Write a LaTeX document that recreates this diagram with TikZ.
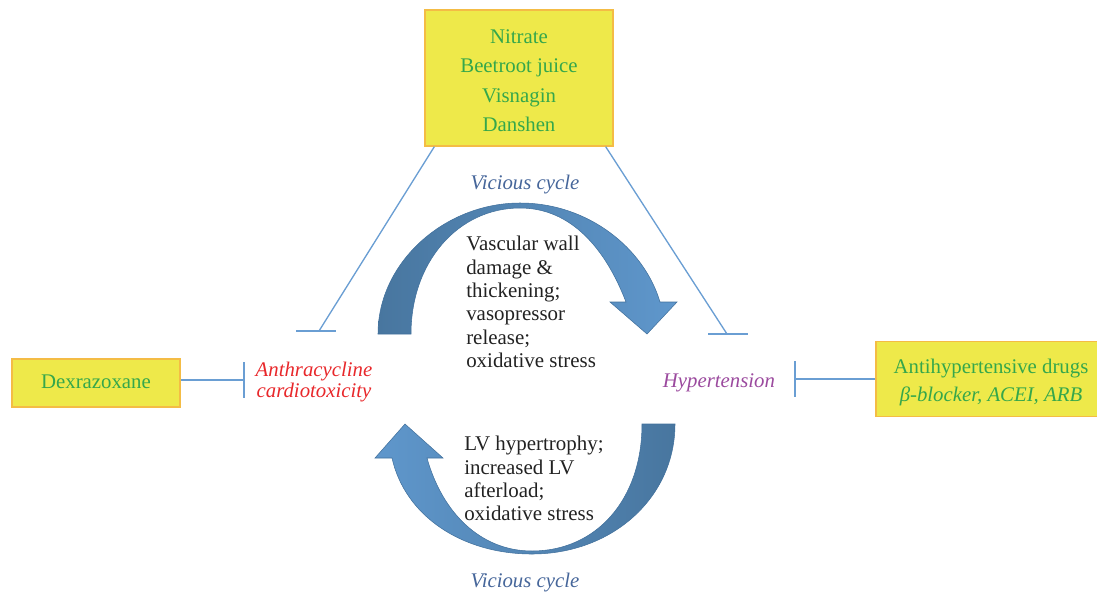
\documentclass[tikz,border=0pt]{standalone}
\usepackage{fontspec}
\setmainfont{Liberation Serif}
\usetikzlibrary{calc}
\definecolor{boxfill}{HTML}{EEE94A}
\definecolor{boxedge}{HTML}{F4BC45}
\definecolor{drugtext}{HTML}{35A74B}
\definecolor{inhib}{HTML}{6A9ED3}
\definecolor{arrdark}{HTML}{48769F}
\definecolor{arrlight}{HTML}{5F97CC}
\definecolor{arredge}{HTML}{41709C}
\definecolor{anthra}{HTML}{E8282B}
\definecolor{hyper}{HTML}{9B4A9E}
\definecolor{vicious}{HTML}{46669A}
\definecolor{bodytext}{HTML}{222222}
\begin{document}
\begin{tikzpicture}[x=0.75pt,y=-0.75pt,
  drugbox/.style={draw=boxedge,fill=boxfill,line width=1pt,inner sep=0pt},
  drugtxt/.style={text=drugtext,align=center,font=\fontsize{15.6}{22.1}\selectfont,inner sep=0pt},
  inhline/.style={draw=inhib,line width=1pt},
  inhbar/.style={draw=inhib,line width=1.6pt},
  bodytxt/.style={text=bodytext,align=left,anchor=north west,inner sep=0pt,
    font=\fontsize{15.7}{17.5}\selectfont},
  vc/.style={text=vicious,font=\fontsize{15.6}{18}\selectfont\itshape,inner sep=0pt},
  arrowband/.style={draw=arredge,line width=0.4pt}
]
\useasboundingbox (0,0) rectangle (1097,594);

% boxes
\node[drugbox,minimum width=141pt,minimum height=102pt] (top) at (519,78) {};
\node[drugtxt] (toptxt) at (519,80.5) {Nitrate\\Beetroot juice\\Visnagin\\Danshen};
\node[drugbox,minimum width=126pt,minimum height=36pt] (dex) at (96,383) {};
\node[drugtxt] (dextxt) at (96,382) {Dexrazoxane};
\node[drugbox,minimum width=168pt,minimum height=56pt] (anti) at (988,379) {};
\node[drugtxt,font=\fontsize{15.6}{20.3}\selectfont] (antitxt) at (991,382.5)
  {Antihypertensive drugs\\\itshape β-blocker, ACEI, ARB};

% labels
\node[text=anthra,align=center,font=\fontsize{15.6}{15.5}\selectfont\itshape,inner sep=0pt] (anth) at (314,382)
  {Anthracycline\\cardiotoxicity};
\node[text=hyper,font=\fontsize{15.6}{18}\selectfont\itshape,inner sep=0pt] (hyp) at (719,383) {Hypertension};
\node[vc] (vc1) at (525,185) {Vicious cycle};
\node[vc] (vc2) at (525,583) {Vicious cycle};

% curved arrows
\shade[arrowband,left color=arrdark,right color=arrlight]
  (378,334) .. controls (378,262) and (445,203) .. (520,203)
  .. controls (588,203) and (644,248) .. (660,302)
  -- (677,302) -- (647,334) -- (610,302) -- (626,302)
  .. controls (606,250) and (572,208) .. (520,208)
  .. controls (458,208) and (411,262) .. (411,334) -- cycle;
\shade[arrowband,left color=arrlight,right color=arrdark]
  (675,424) .. controls (675,498) and (612,554) .. (532,554)
  .. controls (462,554) and (405,516) .. (392,458)
  -- (375,458) -- (405,424) -- (443,458) -- (427,458)
  .. controls (442,512) and (480,551) .. (532,551)
  .. controls (596,551) and (642,500) .. (642,424) -- cycle;

% central texts
\node[bodytxt] (upper) at (466,236)
  {Vascular wall\\damage \&\\thickening;\\vasopressor\\release;\\oxidative stress};
\node[bodytxt] (lower) at (464,436)
  {LV hypertrophy;\\increased LV\\afterload;\\oxidative stress};

% inhibition connectors
\coordinate (bl) at (319,331);
\coordinate (br) at (727,334);
\coordinate (bd) at (244,380);
\coordinate (ba) at (795,379);
\draw[inhline] ($(top.south west)+(10,0)$) -- (bl);
\draw[inhbar] ($(bl)+(-23,0)$) -- ($(bl)+(17,0)$);
\draw[inhline] ($(top.south east)+(-8,0)$) -- (br);
\draw[inhbar] ($(br)+(-19,0)$) -- ($(br)+(21,0)$);
\draw[inhline] (dex.east |- bd) -- (bd);
\draw[inhbar] ($(bd)+(0,-18)$) -- ($(bd)+(0,18)$);
\draw[inhline] (anti.west |- ba) -- (ba);
\draw[inhbar] ($(ba)+(0,-18)$) -- ($(ba)+(0,18)$);
\end{tikzpicture}
\end{document}
